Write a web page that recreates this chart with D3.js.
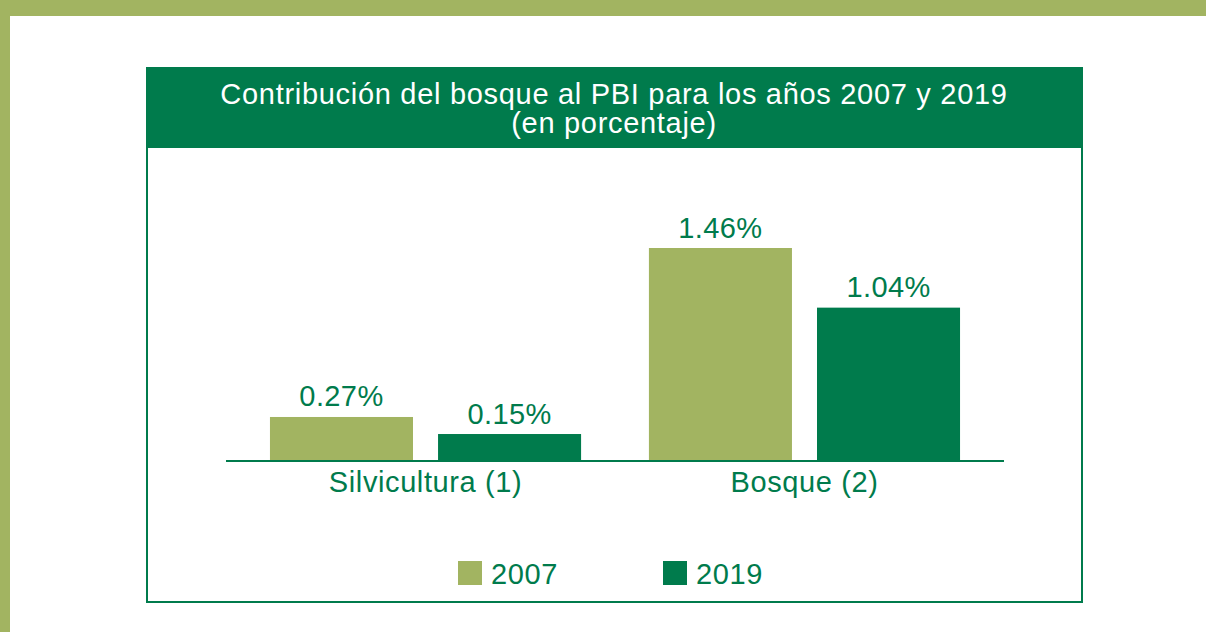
<!DOCTYPE html>
<html><head><meta charset="utf-8">
<script src="https://cdn.jsdelivr.net/npm/d3@7"></script>
<style>html,body{margin:0;padding:0;background:#fff;}svg{display:block;font-family:"Liberation Sans",Arial,sans-serif;}</style>
</head><body>
<svg id="c" width="1206" height="632"></svg>
<script>
const categories = ["Silvicultura (1)", "Bosque (2)"];
const years = ["2007", "2019"];
const values2007 = [0.27, 1.46];
const values2019 = [0.15, 1.04];
const titleLines = ["Contribución del bosque al PBI para los años 2007 y 2019", "(en porcentaje)"];

const light = "#a2b461", dark = "#007b4c";
const FS = 29;
const svg = d3.select("#c");

// frame bands
svg.append("rect").attr("x",0).attr("y",0).attr("width",1206).attr("height",16).attr("fill",light);
svg.append("rect").attr("x",0).attr("y",0).attr("width",10).attr("height",632).attr("fill",light);

// box
svg.append("rect").attr("x",147).attr("y",68).attr("width",935).attr("height",534)
  .attr("fill","#fff").attr("stroke",dark).attr("stroke-width",2);
svg.append("rect").attr("x",146).attr("y",67).attr("width",937).attr("height",81).attr("fill",dark);

svg.selectAll("text.title").data(titleLines).join("text").attr("class","title")
  .attr("x",614).attr("y",(d,i)=>104+i*29).attr("text-anchor","middle")
  .attr("fill","#fff").attr("font-size",FS).attr("letter-spacing",0.7).text(d=>d);

const data = categories.map((c,i)=>({cat:c, vals:[values2007[i], values2019[i]]}));
const x0 = d3.scaleBand().domain(categories).range([226,1004]).paddingInner(0.179).paddingOuter(0.116);
const x1 = d3.scaleBand().domain(years).range([0, x0.bandwidth()]).paddingInner(0.149);
const y = d3.scaleLinear().domain([-0.04, 1.46]).range([461, 248]);
const color = d3.scaleOrdinal().domain(years).range([light, dark]);

const g = svg.append("g");
const groups = g.selectAll("g.cat").data(data).join("g").attr("class","cat").attr("transform",d=>`translate(${x0(d.cat)},0)`);
groups.selectAll("rect").data(d=>d.vals.map((v,i)=>({year:years[i], v})))
  .join("rect")
  .attr("x",d=>x1(d.year)).attr("width",x1.bandwidth())
  .attr("y",d=>y(d.v)).attr("height",d=>y(-0.04)-y(d.v))
  .attr("fill",d=>color(d.year));
groups.selectAll("text").data(d=>d.vals.map((v,i)=>({year:years[i], v})))
  .join("text")
  .attr("x",d=>x1(d.year)+x1.bandwidth()/2).attr("y",d=>y(d.v)-10.5)
  .attr("text-anchor","middle").attr("font-size",FS).attr("letter-spacing",0.4).attr("fill",dark)
  .text(d=>d.v.toFixed(2)+"%");

// axis
const axis = svg.append("g").attr("transform","translate(0,461)")
  .call(d3.axisBottom(x0).tickSize(0).tickPadding(31));
axis.select(".domain").attr("stroke",dark).attr("stroke-width",2).attr("d","M226,0H1004");
axis.selectAll("text").attr("font-size",FS).attr("fill",dark).attr("letter-spacing",0.6)
  .attr("font-family","Liberation Sans, Arial, sans-serif").attr("dy","0");

// legend
const lx = [458, 663];
const leg = svg.selectAll("g.leg").data(years).join("g").attr("class","leg").attr("transform",(d,i)=>`translate(${lx[i]},561)`);
leg.append("rect").attr("width",24).attr("height",24).attr("fill",d=>color(d));
leg.append("text").attr("x",33).attr("y",23).attr("font-size",FS).attr("letter-spacing",0.6).attr("fill",dark).text(d=>d);
</script>
</body></html>
